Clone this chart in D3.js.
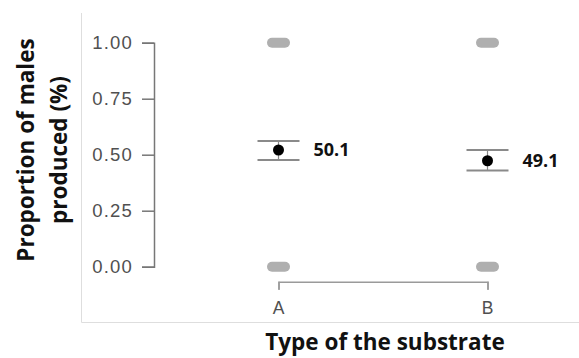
<!DOCTYPE html>
<html><head><meta charset="utf-8">
<script src="https://cdn.jsdelivr.net/npm/d3@7"></script>
<style>html,body{margin:0;padding:0;background:#fff;}svg{display:block;}</style>
</head><body>
<script>
const categories = ["A", "B"];
const means = [0.521, 0.473];
const lowerCI = [0.476, 0.429];
const upperCI = [0.561, 0.521];
const valueLabels = ["50.1", "49.1"];
const rawOutcomes = [0, 1];
const yTicks = [0, 0.25, 0.5, 0.75, 1];
const yTickLabels = ["0.00", "0.25", "0.50", "0.75", "1.00"];

const W = 579, H = 358;
const svg = d3.select("body").append("svg").attr("width", W).attr("height", H);

const x = d3.scalePoint().domain(categories).range([278.5, 487.5]).padding(0);
const y = d3.scaleLinear().domain([0, 1]).range([266.7, 42.7]);

// faint frame lines
svg.append("line").attr("x1", 81.5).attr("x2", 81.5).attr("y1", 13).attr("y2", 322.5)
  .attr("stroke", "#dedede").attr("stroke-width", 1);
svg.append("line").attr("x1", 81.5).attr("x2", W).attr("y1", 322.5).attr("y2", 322.5)
  .attr("stroke", "#dedede").attr("stroke-width", 1);

// y axis
const yAxis = svg.append("g").attr("transform", "translate(154,0)")
  .call(d3.axisLeft(y).tickValues(yTicks).tickFormat((d, i) => yTickLabels[i]).tickSize(12).tickPadding(9));
yAxis.selectAll("path,line").attr("stroke", "#777").attr("stroke-width", 1.5);
yAxis.selectAll("text").attr("fill", "#505050").style("font-family", "Liberation Sans, Arial, sans-serif")
  .style("font-size", "18.5px").style("letter-spacing", "1.2px");

// x axis
const xAxis = svg.append("g").attr("transform", "translate(0,281.7)")
  .call(d3.axisBottom(x).tickSize(8).tickSizeOuter(8).tickPadding(12));
xAxis.selectAll("path,line").attr("stroke", "#9a9a9a").attr("stroke-width", 1.5);
xAxis.selectAll("text").attr("fill", "#505050").style("font-family", "Liberation Sans, Arial, sans-serif")
  .style("font-size", "17.5px").style("letter-spacing", "1px");

// raw outcome pills (jittered 0/1 data)
categories.forEach(c => {
  rawOutcomes.forEach(v => {
    svg.append("rect").attr("x", x(c) - 11.5).attr("y", y(v) - 5).attr("width", 23).attr("height", 10)
      .attr("rx", 5).attr("fill", "#afafaf");
  });
});

// error bars
const g = svg.append("g");
categories.forEach((c, i) => {
  const cx = x(c);
  g.append("line").attr("x1", cx).attr("x2", cx).attr("y1", y(upperCI[i])).attr("y2", y(lowerCI[i]))
    .attr("stroke", "#888").attr("stroke-width", 1.2);
  [upperCI[i], lowerCI[i]].forEach(v => {
    g.append("line").attr("x1", cx - 21).attr("x2", cx + 21).attr("y1", y(v)).attr("y2", y(v))
      .attr("stroke", "#8a8a8a").attr("stroke-width", 2);
  });
  g.append("circle").attr("cx", cx).attr("cy", y(means[i])).attr("r", 5.5).attr("fill", "#000");
  g.append("text").attr("x", cx + 35).attr("y", y(means[i]) + 6)
    .text(valueLabels[i]).attr("fill", "#111")
    .style("font-family", "Open Sans, sans-serif").style("font-weight", "bold").style("font-size", "18px");
});

// axis titles
svg.append("text").attr("x", 385).attr("y", 350).attr("text-anchor", "middle")
  .text("Type of the substrate").attr("fill", "#111")
  .style("font-family", "Open Sans, sans-serif").style("font-weight", "bold").style("font-size", "22.5px");

const yt = svg.append("g").attr("transform", "translate(0,150) rotate(-90)");
yt.append("text").attr("x", 0).attr("y", 34).attr("text-anchor", "middle")
  .text("Proportion of males").attr("fill", "#111")
  .style("font-family", "Open Sans, sans-serif").style("font-weight", "bold").style("font-size", "22.5px");
yt.append("text").attr("x", 0).attr("y", 67).attr("text-anchor", "middle")
  .text("produced (%)").attr("fill", "#111")
  .style("font-family", "Open Sans, sans-serif").style("font-weight", "bold").style("font-size", "22.5px");
</script>
</body></html>
